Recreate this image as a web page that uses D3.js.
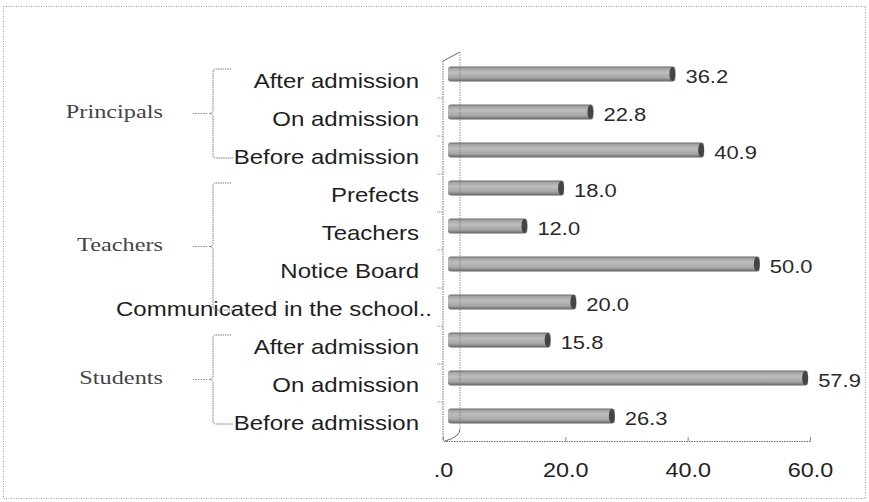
<!DOCTYPE html>
<html>
<head>
<meta charset="utf-8">
<script src="https://cdn.jsdelivr.net/npm/d3@7"></script>
<style>
  html, body { margin: 0; padding: 0; background: #fff; }
  svg { display: block; }
</style>
</head>
<body>
<svg id="chart" width="869" height="502"></svg>
<script>
// ---- data ----
const groups = ["Principals", "Teachers", "Students"];
const categories = ["After admission", "On admission", "Before admission",
  "Prefects", "Teachers", "Notice Board", "Communicated in the school..",
  "After admission", "On admission", "Before admission"];
const categoryGroup = [0, 0, 0, 1, 1, 1, 1, 2, 2, 2];
const values = [36.2, 22.8, 40.9, 18.0, 12.0, 50.0, 20.0, 15.8, 57.9, 26.3];
const xTicks = [0, 20, 40, 60];

// ---- layout ----
const svg = d3.select("#chart");
const x = d3.scaleLinear().domain([0, 60]).range([443, 810]);
const y = d3.scaleBand().domain(d3.range(categories.length)).range([60, 440]).paddingInner(0).paddingOuter(0);
const lineCol = "#6a6a6a";
const dash = "1.5,1";

// outer frame
svg.append("rect").attr("x", 3.5).attr("y", 6.5).attr("width", 862).attr("height", 492)
  .attr("fill", "none").attr("stroke", "#999").attr("stroke-dasharray", "1,1.5");

// defs: bar gradient
const defs = svg.append("defs");
const grad = defs.append("linearGradient").attr("id", "barGrad")
  .attr("x1", 0).attr("y1", 0).attr("x2", 0).attr("y2", 1);
[[0, "#6a6a6a"], [0.15, "#a8a8a8"], [0.4, "#bdbdbd"], [0.75, "#a6a6a6"], [1, "#626262"]]
  .forEach(([o, c]) => grad.append("stop").attr("offset", o).attr("stop-color", c));

// 3D walls
const g = svg.append("g");
const depthX = 17, depthY = -9;
const yTop = y.range()[0] + 1, yBot = y.range()[1] + 1;
g.append("line").attr("x1", x(0)).attr("x2", x(0)).attr("y1", yTop).attr("y2", yBot)
  .attr("stroke", lineCol).attr("stroke-dasharray", dash);
g.append("line").attr("x1", x(0)).attr("y1", yTop).attr("x2", x(0) + depthX).attr("y2", yTop + depthY)
  .attr("stroke", lineCol);
g.append("path")
  .attr("d", `M${x(0) + depthX},${yBot - 12} Q${x(0) + depthX},${yBot - 4} ${x(0) + 2},${yBot}`)
  .attr("fill", "none").attr("stroke", lineCol);

// left ticks at band boundaries
d3.range(1, categories.length).forEach(i => {
  const yy = y.range()[0] + i * y.step();
  g.append("line").attr("x1", x(0) - 6).attr("x2", x(0)).attr("y1", yy).attr("y2", yy)
    .attr("stroke", "#888").attr("stroke-dasharray", "1,1");
});

// x axis
const xAxis = d3.axisBottom(x).tickValues(xTicks)
  .tickFormat(d => d === 0 ? ".0" : d3.format(".1f")(d)).tickSize(-4).tickPadding(12);
const ax = svg.append("g").attr("transform", `translate(0,${yBot})`).call(xAxis);
ax.select(".domain").attr("stroke", lineCol).attr("stroke-dasharray", dash);
ax.selectAll(".tick line").attr("stroke", "#888");
ax.selectAll(".tick text")
  .attr("font-family", "Liberation Sans, Arial, sans-serif").attr("font-size", 20)
  .attr("fill", "#222").attr("y", 0).attr("dy", 0)
  .attr("text-anchor", "middle")
  .attr("transform", "translate(0,36) scale(1.17,1)");

// bars
const barH = 15, barShift = -5;
const bars = svg.append("g");
values.forEach((v, i) => {
  const cy = y(i) + y.bandwidth() / 2 + barShift;
  const x0 = x(0) + 5, x1 = x(v) + 11;
  bars.append("rect").attr("x", x0).attr("y", cy - barH / 2).attr("width", x1 - x0).attr("height", barH)
    .attr("rx", 3).attr("fill", "url(#barGrad)");
  bars.append("ellipse").attr("cx", x1 - 3).attr("cy", cy).attr("rx", 3).attr("ry", barH / 2 - 0.5)
    .attr("fill", "#444");
  bars.append("text")
    .attr("transform", `translate(${x1 + 10},${cy + 3}) scale(1.22,1)`)
    .attr("dy", "0.35em")
    .attr("font-family", "Liberation Sans, Arial, sans-serif").attr("font-size", 18)
    .attr("fill", "#2a2a2a").text(d3.format(".1f")(v));
});

// back wall line drawn over the bars
svg.append("line").attr("x1", x(0) + depthX).attr("x2", x(0) + depthX)
  .attr("y1", yTop + depthY).attr("y2", yBot - 12)
  .attr("stroke", "#777").attr("stroke-opacity", 0.8).attr("stroke-dasharray", dash);

// category labels
const labelX = 419;
categories.forEach((c, i) => {
  const extra = c.endsWith("..") ? 13 : 0;
  svg.append("text")
    .attr("transform", `translate(${labelX + extra},${y(i) + y.bandwidth() / 2 + 1.5}) scale(1.2,1)`)
    .attr("dy", "0.35em").attr("text-anchor", "end")
    .attr("font-family", "Liberation Sans, Arial, sans-serif").attr("font-size", 20)
    .attr("fill", "#1e1e1e").text(c);
});

// group braces and labels
const braceX = 213;
groups.forEach((name, gi) => {
  const idx = categoryGroup.map((gg, i) => gg === gi ? i : -1).filter(i => i >= 0);
  const first = idx[0], last = idx[idx.length - 1];
  const top = y(first) + y.bandwidth() / 2 - 10;
  const bot = y(last) + y.bandwidth() / 2 + 3;
  const mid = (top + bot) / 2;
  const p = d3.path();
  p.moveTo(braceX + 18, top);
  p.lineTo(braceX + 3, top);
  p.quadraticCurveTo(braceX, top, braceX, top + 3);
  p.lineTo(braceX, mid - 3);
  p.quadraticCurveTo(braceX, mid, braceX - 4, mid);
  p.quadraticCurveTo(braceX, mid, braceX, mid + 3);
  p.lineTo(braceX, bot - 3);
  p.quadraticCurveTo(braceX, bot, braceX + 3, bot);
  p.lineTo(braceX + 20, bot);
  svg.append("path").attr("d", p.toString()).attr("fill", "none")
    .attr("stroke", "#7a7a7a").attr("stroke-width", 1).attr("stroke-dasharray", "1.5,0.8");
  svg.append("line").attr("x1", braceX - 20).attr("x2", braceX - 5).attr("y1", mid).attr("y2", mid)
    .attr("stroke", "#888").attr("stroke-dasharray", "1.5,1");
  svg.append("text")
    .attr("transform", `translate(163,${mid - 2}) scale(1.35,1)`)
    .attr("dy", "0.35em").attr("text-anchor", "end")
    .attr("font-family", "Liberation Serif, Times New Roman, serif").attr("font-size", 18)
    .attr("fill", "#444").text(name);
});
</script>
</body>
</html>
